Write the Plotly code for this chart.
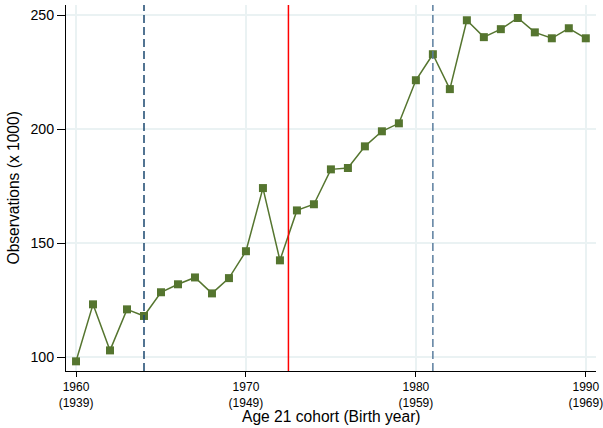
import plotly.graph_objects as go

years = list(range(1960, 1991))
obs = [98.1, 123.1, 102.9, 120.9, 118.0, 128.4, 131.9, 134.9, 127.9, 134.6,
       146.4, 174.1, 142.4, 164.3, 167.0, 182.3, 182.9, 192.4, 199.0, 202.5,
       221.4, 232.8, 217.5, 247.7, 240.3, 243.8, 248.7, 242.4, 239.8, 244.2,
       239.8]
x_ticks = [1960, 1970, 1980, 1990]
x_tick_labels = ["1960<br>(1939)", "1970<br>(1949)", "1980<br>(1959)", "1990<br>(1969)"]
y_ticks = [100, 150, 200, 250]
dashed_lines = [1964, 1981]
dashed_colors = ["#1a476f", "#5b7e9e"]
red_line = [1972.5]
x_title = "Age 21 cohort (Birth year)"
y_title = "Observations (x 1000)"

GREEN = "#55752f"
FONT = "Liberation Sans, Arial, sans-serif"

fig = go.Figure()
fig.add_trace(go.Scatter(
    x=years, y=obs, mode="lines+markers",
    line=dict(color=GREEN, width=1.5),
    marker=dict(symbol="square", size=8, color=GREEN),
    showlegend=False, hoverinfo="x+y",
))

for xv, c in zip(dashed_lines, dashed_colors):
    fig.add_shape(type="line", xref="x", yref="paper", x0=xv, x1=xv, y0=0, y1=1,
                  line=dict(color=c, width=1.5, dash="8px,4px"), layer="above")
for xv in red_line:
    fig.add_shape(type="line", xref="x", yref="paper", x0=xv, x1=xv, y0=0, y1=1,
                  line=dict(color="#ff0000", width=1.5), layer="above")

# axis titles
fig.add_annotation(x=0.5, xref="paper", y=0, yref="paper", text=x_title,
                   showarrow=False, xanchor="center", yanchor="middle",
                   yshift=-45, borderpad=0,
                   font=dict(size=15.6, family=FONT, color="#000"))
fig.add_annotation(x=0, xref="paper", y=0.5, yref="paper", text=y_title,
                   showarrow=False, xanchor="center", yanchor="middle",
                   textangle=-90, xshift=-53.5, borderpad=0,
                   font=dict(size=15.6, family=FONT, color="#000"))

fig.update_layout(
    width=603, height=428,
    margin=dict(l=66, r=7, t=5, b=57, autoexpand=False),
    paper_bgcolor="white", plot_bgcolor="white",
    font=dict(family=FONT, color="#000000", size=14),
    xaxis=dict(
        range=[1959.41, 1990.6], automargin=False,
        tickmode="array", tickvals=x_ticks, ticktext=x_tick_labels,
        tickfont=dict(size=12), ticks="outside", ticklen=5, tickcolor="#000",
        ticklabeloverflow="allow",
        showline=True, linecolor="#000", linewidth=1,
        showgrid=True, gridcolor="#eaf2f3", gridwidth=1.5,
        zeroline=False,
    ),
    yaxis=dict(
        range=[93.86, 254.4], automargin=False,
        tickmode="array", tickvals=y_ticks,
        tickfont=dict(size=14.2), ticks="outside", ticklen=8, tickcolor="#000",
        showline=True, linecolor="#000", linewidth=1,
        showgrid=True, gridcolor="#eaf2f3", gridwidth=1.5,
        zeroline=False,
    ),
)

fig.write_html("out.html")
